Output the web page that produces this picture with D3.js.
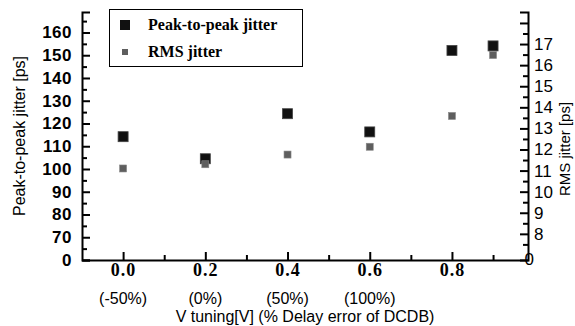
<!DOCTYPE html>
<html>
<head>
<meta charset="utf-8">
<script src="https://cdn.jsdelivr.net/npm/d3@7"></script>
<style>
  body { margin: 0; background: #fff; }
  svg { display: block; }
</style>
</head>
<body>
<div id="chart"></div>
<script>
// data
var vTuning     = [0.0, 0.2, 0.4, 0.6, 0.8, 0.9];
var peakToPeak  = [114.2, 104.5, 124.3, 116.3, 152.1, 154.1];
var rmsJitter   = [11.1, 11.3, 11.76, 12.13, 13.59, 16.48];
var xTickLabels = ['0.0', '0.2', '0.4', '0.6', '0.8'];
var delayLabels = ['(-50%)', '(0%)', '(50%)', '(100%)'];
var leftTicks   = [70, 80, 90, 100, 110, 120, 130, 140, 150, 160];
var rightTicks  = [8, 9, 10, 11, 12, 13, 14, 15, 16, 17];

var width = 575, height = 326;
var plot = { left: 82, right: 528, top: 12, bottom: 260 };

var svg = d3.select('#chart').append('svg')
  .attr('width', width)
  .attr('height', height);

var x = d3.scaleLinear().domain([-0.1, 0.985]).range([plot.left, plot.right]);
// broken axes: the bottom of each axis is labelled "0"
var yL = d3.scaleLinear().domain([60, 169]).range([plot.bottom, plot.top]);
var yR = d3.scaleLinear().domain([6.76, 18.52]).range([plot.bottom, plot.top]);

function styleAxis(g) {
  g.selectAll('path.domain').attr('stroke', '#000').attr('stroke-width', 2);
  g.selectAll('.tick line').attr('stroke', '#000').attr('stroke-width', 2);
}

// minor ticks first
svg.append('g')
  .attr('transform', 'translate(' + plot.left + ',0)')
  .call(d3.axisRight(yL).tickValues(d3.range(65, 166, 10)).tickSize(5).tickFormat(''))
  .call(styleAxis)
  .select('path.domain').remove();

svg.append('g')
  .attr('transform', 'translate(' + plot.right + ',0)')
  .call(d3.axisLeft(yR).tickValues(d3.range(7.5, 18, 1)).tickSize(5).tickFormat(''))
  .call(styleAxis)
  .select('path.domain').remove();

svg.append('g')
  .attr('transform', 'translate(0,' + plot.bottom + ')')
  .call(d3.axisTop(x).tickValues([0.1, 0.3, 0.5, 0.7, 0.9]).tickSize(5).tickFormat(''))
  .call(styleAxis)
  .select('path.domain').remove();

// left axis
var gL = svg.append('g')
  .attr('transform', 'translate(' + plot.left + ',0)')
  .call(d3.axisRight(yL).tickValues([60].concat(leftTicks)).tickSize(8).tickSizeOuter(8)
    .tickFormat(function(d) { return d === 60 ? '0' : d; }))
  .call(styleAxis);
gL.selectAll('.tick text')
  .attr('x', -10)
  .attr('text-anchor', 'end')
  .style('font-family', 'Liberation Sans, Arial, sans-serif')
  .style('font-weight', 'bold')
  .style('font-size', '17px')
  .style('letter-spacing', '0.5px')
  .attr('fill', '#000');

// right axis
var gR = svg.append('g')
  .attr('transform', 'translate(' + plot.right + ',0)')
  .call(d3.axisLeft(yR).tickValues([18].concat(rightTicks)).tickSize(8).tickSizeOuter(8)
    .tickFormat(function(d) { return d === 18 ? '' : d; }))
  .call(styleAxis);
gR.selectAll('.tick text')
  .attr('x', 6)
  .attr('text-anchor', 'start')
  .style('font-family', 'Liberation Sans, Arial, sans-serif')
  .style('font-size', '17px')
  .attr('fill', '#000');
gR.append('text')
  .attr('x', 6)
  .attr('y', yR(6.76))
  .attr('dy', '0.32em')
  .style('font-family', 'Liberation Sans, Arial, sans-serif')
  .style('font-size', '17px')
  .attr('fill', '#000')
  .text('0');

// bottom axis
var gX = svg.append('g')
  .attr('transform', 'translate(0,' + plot.bottom + ')')
  .call(d3.axisTop(x).tickValues([0, 0.2, 0.4, 0.6, 0.8]).tickSize(8).tickSizeOuter(0)
    .tickFormat(function(d, i) { return xTickLabels[i]; }))
  .call(styleAxis);
gX.selectAll('.tick text')
  .attr('y', 16)
  .style('font-family', 'Liberation Serif, Times New Roman, serif')
  .style('font-weight', 'bold')
  .style('font-size', '18px')
  .style('letter-spacing', '1px')
  .attr('fill', '#000');

svg.append('g').selectAll('text')
  .data(delayLabels)
  .enter()
  .append('text')
  .attr('x', function(d, i) { return x(i * 0.2); })
  .attr('y', 304)
  .attr('text-anchor', 'middle')
  .style('font-family', 'Liberation Sans, Arial, sans-serif')
  .style('font-size', '16px')
  .text(function(d) { return d; });

// axis titles
svg.append('text')
  .attr('x', 305)
  .attr('y', 322)
  .attr('text-anchor', 'middle')
  .style('font-family', 'Liberation Sans, Arial, sans-serif')
  .style('font-size', '16px')
  .text('V tuning[V] (% Delay error of DCDB)');

svg.append('text')
  .attr('transform', 'translate(25,136) rotate(-90)')
  .attr('text-anchor', 'middle')
  .style('font-family', 'Liberation Sans, Arial, sans-serif')
  .style('font-size', '16px')
  .text('Peak-to-peak jitter [ps]');

svg.append('text')
  .attr('transform', 'translate(570,149) rotate(-90)')
  .attr('text-anchor', 'middle')
  .style('font-family', 'Liberation Sans, Arial, sans-serif')
  .style('font-size', '15px')
  .text('RMS jitter [ps]');

// points
svg.append('g').selectAll('rect')
  .data(vTuning)
  .enter()
  .append('rect')
  .attr('x', function(d) { return x(d) - 5; })
  .attr('y', function(d, i) { return yL(peakToPeak[i]) - 5; })
  .attr('width', 10)
  .attr('height', 10)
  .attr('fill', '#111')
  .attr('stroke', '#444')
  .attr('stroke-width', 0.8);

svg.append('g').selectAll('rect')
  .data(vTuning)
  .enter()
  .append('rect')
  .attr('x', function(d) { return x(d) - 3.5; })
  .attr('y', function(d, i) { return yR(rmsJitter[i]) - 3.5; })
  .attr('width', 7)
  .attr('height', 7)
  .attr('fill', '#5e5e5e')
  .attr('stroke', '#888')
  .attr('stroke-width', 0.6);

// legend
var legend = svg.append('g');
legend.append('rect')
  .attr('x', 109.5).attr('y', 9.5)
  .attr('width', 193).attr('height', 57)
  .attr('fill', '#fff')
  .attr('stroke', '#000')
  .attr('stroke-width', 1);
legend.append('rect')
  .attr('x', 120).attr('y', 20).attr('width', 10).attr('height', 10)
  .attr('fill', '#111');
legend.append('rect')
  .attr('x', 122).attr('y', 49).attr('width', 6).attr('height', 6)
  .attr('fill', '#5e5e5e');
legend.append('text')
  .attr('x', 148).attr('y', 30)
  .style('font-family', 'Liberation Serif, Times New Roman, serif')
  .style('font-weight', 'bold')
  .style('font-size', '16px')
  .text('Peak-to-peak jitter');
legend.append('text')
  .attr('x', 148).attr('y', 57)
  .style('font-family', 'Liberation Serif, Times New Roman, serif')
  .style('font-weight', 'bold')
  .style('font-size', '16px')
  .text('RMS jitter');
</script>
</body>
</html>
